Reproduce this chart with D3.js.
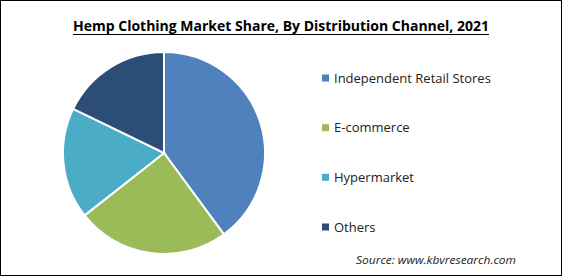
<!DOCTYPE html>
<html>
<head>
<meta charset="utf-8">
<script src="https://cdn.jsdelivr.net/npm/d3@7"></script>
<style>
  body { margin: 0; background: #fff; }
  svg text { font-family: "Open Sans", "DejaVu Sans", sans-serif; }
</style>
</head>
<body>
<div id="chart"></div>
<script>
// ===== DATA =====
const channels = ['Independent Retail Stores', 'E-commerce', 'Hypermarket', 'Others'];
const shares = [39.9, 24.5, 17.8, 17.8];
const colors = ['#4f81bd', '#9bbb59', '#4bacc6', '#2c4d75'];

const width = 562;
const height = 276;

const svg = d3.select('#chart')
  .append('svg')
  .attr('width', width)
  .attr('height', height);

svg.append('rect')
  .attr('x', 0.5).attr('y', 0.5)
  .attr('width', width - 1).attr('height', height - 1)
  .attr('fill', '#fff')
  .attr('stroke', '#000');

// title
svg.append('text')
  .attr('x', 281)
  .attr('y', 31)
  .attr('text-anchor', 'middle')
  .attr('font-size', 14)
  .attr('font-weight', 'bold')
  .attr('textLength', 416)
  .attr('lengthAdjust', 'spacingAndGlyphs')
  .text('Hemp Clothing Market Share, By Distribution Channel, 2021');

svg.append('line')
  .attr('x1', 73).attr('x2', 489)
  .attr('y1', 34.5).attr('y2', 34.5)
  .attr('stroke', '#000')
  .attr('stroke-width', 1.2);

// pie
const pie = d3.pie().sort(null).value(d => d);
const arc = d3.arc().innerRadius(0).outerRadius(101);

const g = svg.append('g').attr('transform', 'translate(164,153)');
g.selectAll('path')
  .data(pie(shares))
  .join('path')
  .attr('d', arc)
  .attr('fill', (d, i) => colors[i])
  .attr('stroke', '#fff')
  .attr('stroke-width', 2);

// legend
const legendY = d3.scalePoint().domain(channels).range([78, 227]);
const items = svg.append('g').selectAll('g')
  .data(channels)
  .join('g')
  .attr('transform', d => `translate(322,${legendY(d)})`);

items.append('rect')
  .attr('x', 0).attr('y', -3.5)
  .attr('width', 7).attr('height', 7)
  .attr('fill', (d, i) => colors[i]);

items.append('text')
  .attr('x', 12)
  .attr('y', 4.5)
  .attr('font-size', 13)
  .attr('fill', '#222')
  .text(d => d);

// source
svg.append('text')
  .attr('x', 356)
  .attr('y', 264)
  .attr('font-size', 11.5)
  .attr('font-style', 'italic')
  .attr('fill', '#222')
  .attr('textLength', 160)
  .attr('lengthAdjust', 'spacingAndGlyphs')
  .text('Source:  www.kbvresearch.com');
</script>
</body>
</html>
